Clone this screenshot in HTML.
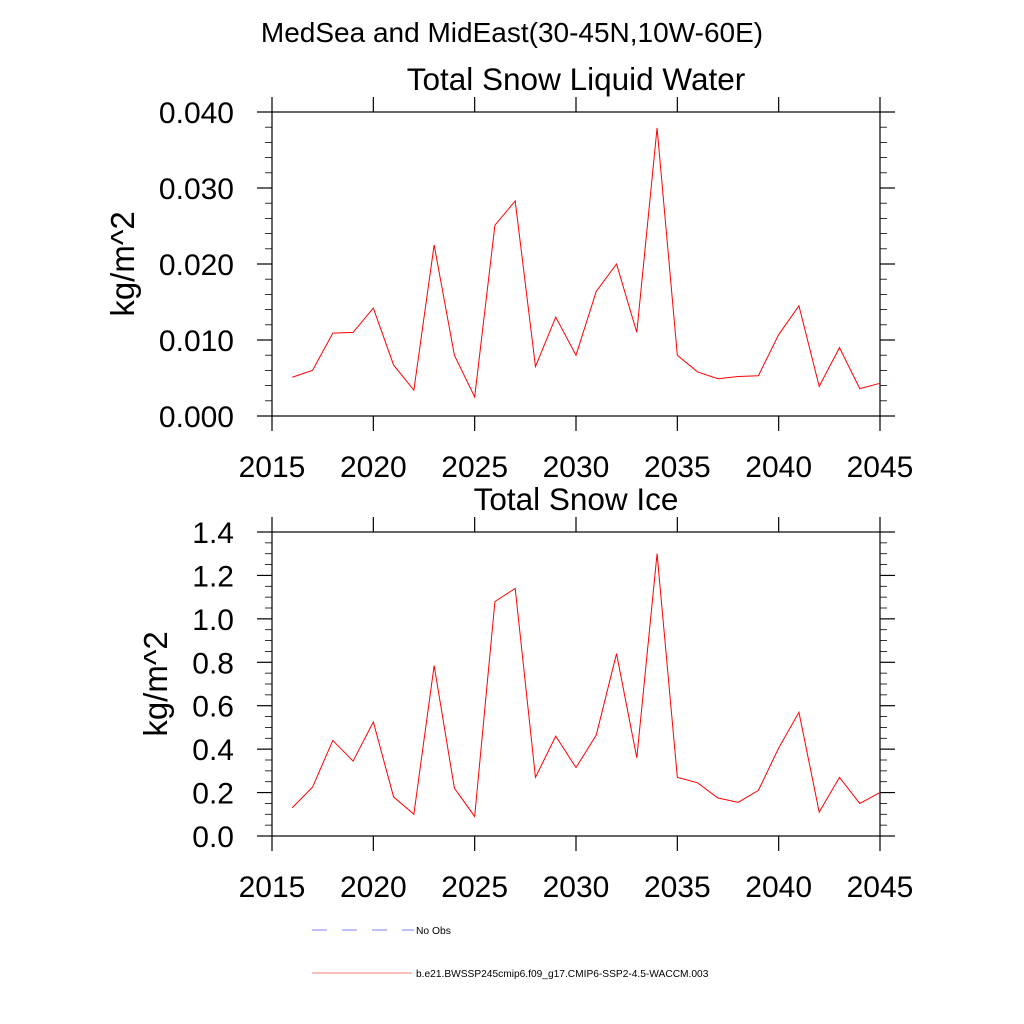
<!DOCTYPE html>
<html><head><meta charset="utf-8"><style>
body{margin:0;background:#fff}
svg{display:block;font-family:"Liberation Sans",sans-serif}
</style></head><body>
<svg id="c" width="1024" height="1024" viewBox="0 0 1024 1024">
<text x="512" y="42" font-size="28" text-anchor="middle">MedSea and MidEast(30-45N,10W-60E)</text>
<g id="p1"></g><g id="p2"></g>
<g>
<line x1="312" y1="930" x2="414" y2="930" stroke="#5555ff" stroke-width="0.7" stroke-dasharray="15,15"/>
<text x="416" y="934" font-size="10.3">No Obs</text>
<line x1="312" y1="973" x2="412" y2="973" stroke="#ee5555" stroke-width="0.7"/>
<text x="416" y="977" font-size="10.2">b.e21.BWSSP245cmip6.f09_g17.CMIP6-SSP2-4.5-WACCM.003</text>
</g>
</svg>
<script>
const years=[2016,2017,2018,2019,2020,2021,2022,2023,2024,2025,2026,2027,2028,2029,2030,2031,2032,2033,2034,2035,2036,2037,2038,2039,2040,2041,2042,2043,2044,2045];
const liquidWater=[0.0051,0.006,0.0109,0.011,0.0142,0.0067,0.0034,0.0225,0.008,0.0025,0.0251,0.0283,0.0065,0.013,0.008,0.0164,0.020,0.011,0.0379,0.008,0.0058,0.0049,0.0052,0.0053,0.0107,0.0145,0.0039,0.009,0.0036,0.0043];
const snowIce=[0.13,0.225,0.44,0.345,0.525,0.18,0.10,0.785,0.22,0.09,1.08,1.14,0.27,0.46,0.315,0.465,0.84,0.36,1.30,0.27,0.245,0.175,0.155,0.21,0.405,0.57,0.11,0.27,0.15,0.20];
const xTicks=[2015,2020,2025,2030,2035,2040,2045];
const yTicks1=["0.000","0.010","0.020","0.030","0.040"];
const yTicks2=["0.0","0.2","0.4","0.6","0.8","1.0","1.2","1.4"];
const NS="http://www.w3.org/2000/svg";
function mk(p,t,a){const e=document.createElementNS(NS,t);for(const k in a)e.setAttribute(k,a[k]);p.appendChild(e);return e;}
function plot(g,o){
 const L=272,R=880,T=o.top,B=o.top+304;
 const xs=v=>L+(v-2015)/30*(R-L);
 const ys=v=>B-(v-o.ymin)/(o.ymax-o.ymin)*(B-T);
 const t=mk(g,'text',{x:576,y:T-22,'font-size':31.5,'text-anchor':'middle'});t.textContent=o.title;
 
 
 const yt=mk(g,'text',{x:0,y:0,'font-size':33,'text-anchor':'middle',transform:`translate(${o.ytx},${(T+B)/2}) rotate(-90)`});yt.textContent='kg/m^2';
 
 
 const ax=mk(g,'g',{stroke:'#000','stroke-width':1.2});
 
 
 mk(ax,'rect',{x:L,y:T,width:R-L,height:B-T,fill:'none'});
 xTicks.forEach(v=>{const x=xs(v);
  mk(ax,'line',{x1:x,y1:T-15,x2:x,y2:T});mk(ax,'line',{x1:x,y1:B,x2:x,y2:B+15});
  const tl=mk(g,'text',{x:x,y:B+61,'font-size':30,'text-anchor':'middle'});tl.textContent=v;
  
  });
 o.labels.forEach((s,i)=>{const v=o.ymin+i*o.step,y=ys(v);
  mk(ax,'line',{x1:L-15,y1:y,x2:L,y2:y});mk(ax,'line',{x1:R,y1:y,x2:R+15,y2:y});
  const tl=mk(g,'text',{x:L-38,y:y+11,'font-size':30,'text-anchor':'end'});tl.textContent=s;
  
  
  if(i<o.labels.length-1)for(let k=1;k<o.minor;k++){const ym=ys(v+k*o.step/o.minor);
   mk(ax,'line',{x1:L-7,y1:ym,x2:L,y2:ym,'stroke-width':0.8});mk(ax,'line',{x1:R,y1:ym,x2:R+7,y2:ym,'stroke-width':0.8});}});
 const pl=mk(g,'polyline',{points:years.map((y,i)=>xs(y)+','+ys(o.data[i])).join(' '),fill:'none',stroke:'#ff0000','stroke-width':1});
 
 
}
const g1=document.getElementById('p1');


const g2=document.getElementById('p2');


plot(g1,{top:112,ymin:0,ymax:0.04,step:0.01,minor:5,labels:yTicks1,data:liquidWater,title:'Total Snow Liquid Water',ytx:134});
plot(g2,{top:532,ymin:0,ymax:1.4,step:0.2,minor:4,labels:yTicks2,data:snowIce,title:'Total Snow Ice',ytx:167});
</script>
</body></html>
